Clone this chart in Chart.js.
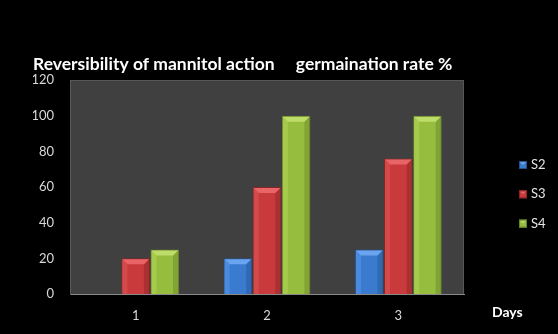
<!DOCTYPE html>
<html>
<head>
<meta charset="utf-8">
<script src="https://cdn.jsdelivr.net/npm/chart.js@4/dist/chart.umd.min.js"></script>
<style>
  html, body { margin: 0; padding: 0; background: #000; }
  #wrap { width: 558px; height: 334px; }
</style>
</head>
<body>
<div id="wrap"><canvas id="c" width="558" height="334"></canvas></div>
<script>
// Germination rate (%) per day for each treatment series
const days = ['1', '2', '3'];
const seriesNames = ['S2', 'S3', 'S4'];
const s2 = [0, 20, 25];
const s3 = [20, 60, 76];
const s4 = [25, 100, 100];

const fills   = ['#3a7bd0', '#c83a3b', '#97bd3f'];
const lights  = ['#6aa3ee', '#e86466', '#bedc68'];
const darks   = ['#25528f', '#8a2526', '#66842a'];
const sides   = ['#4a8be0', '#d44a4b', '#a6cb4c'];

const titleText = 'Reversibility of mannitol action     germaination rate %';

// Dark plot panel behind the bars
const panel = {
  id: 'panel',
  beforeDraw(chart) {
    const { ctx, chartArea: a } = chart;
    ctx.save();
    ctx.fillStyle = '#000';
    ctx.fillRect(0, 0, chart.width, chart.height);
    ctx.fillStyle = '#404040';
    ctx.fillRect(a.left, a.top, a.right - a.left, a.bottom - a.top);
    ctx.strokeStyle = '#575757';
    ctx.lineWidth = 1;
    ctx.strokeRect(a.left + 0.5, a.top + 0.5, a.right - a.left - 1, a.bottom - a.top);
    ctx.restore();
  }
};

// Bevelled top and side faces on each bar
function bevel(ctx, x0, x1, top, bottom, i) {
  const b = Math.min(5, (bottom - top) / 2);
  ctx.fillStyle = sides[i];
  ctx.beginPath();
  ctx.moveTo(x0 + 1, top + 1); ctx.lineTo(x0 + 1 + b, top + 1 + b);
  ctx.lineTo(x0 + 1 + b, bottom); ctx.lineTo(x0 + 1, bottom); ctx.closePath();
  ctx.fill();
  ctx.fillStyle = darks[i];
  ctx.globalAlpha = 0.45;
  ctx.beginPath();
  ctx.moveTo(x1 - 1, top + 1); ctx.lineTo(x1 - 1 - b, top + 1 + b);
  ctx.lineTo(x1 - 1 - b, bottom); ctx.lineTo(x1 - 1, bottom); ctx.closePath();
  ctx.fill();
  ctx.globalAlpha = 1;
  ctx.fillStyle = lights[i];
  ctx.beginPath();
  ctx.moveTo(x0 + 1, top + 1); ctx.lineTo(x1 - 1, top + 1);
  ctx.lineTo(x1 - 1 - b, top + 1 + b); ctx.lineTo(x0 + 1 + b, top + 1 + b); ctx.closePath();
  ctx.fill();
}

const bevels = {
  id: 'bevels',
  afterDatasetsDraw(chart) {
    const ctx = chart.ctx;
    ctx.save();
    chart.data.datasets.forEach((ds, i) => {
      chart.getDatasetMeta(i).data.forEach(bar => {
        const { x, y, base, width } = bar.getProps(['x', 'y', 'base', 'width'], true);
        if (base - y < 2) return;
        bevel(ctx, x - width / 2, x + width / 2, y, base, i);
      });
    });
    ctx.restore();
  }
};

// Legend on the right and the "Days" axis caption
const extras = {
  id: 'extras',
  afterDraw(chart) {
    const ctx = chart.ctx;
    ctx.save();
    chart.data.datasets.forEach((ds, i) => {
      const cy = 165 + i * 29.3;
      ctx.fillStyle = fills[i];
      ctx.fillRect(519, cy - 4, 8, 8);
      ctx.fillStyle = lights[i];
      ctx.beginPath();
      ctx.moveTo(520, cy - 3); ctx.lineTo(526, cy - 3); ctx.lineTo(523, cy); ctx.closePath();
      ctx.fill();
      ctx.strokeStyle = darks[i];
      ctx.lineWidth = 1;
      ctx.strokeRect(519.5, cy - 3.5, 7, 7);
      ctx.fillStyle = '#e4e4e4';
      ctx.font = '13px Lato';
      ctx.textBaseline = 'middle';
      ctx.textAlign = 'left';
      ctx.fillText(ds.label, 531, cy);
    });
    ctx.fillStyle = '#ffffff';
    ctx.font = 'bold 14px Lato';
    ctx.textBaseline = 'middle';
    ctx.fillText('Days', 492, 312);
    ctx.restore();
  }
};

new Chart(document.getElementById('c'), {
  type: 'bar',
  data: {
    labels: days,
    datasets: [
      { label: seriesNames[0], data: s2, backgroundColor: fills[0], borderColor: darks[0], borderWidth: 1 },
      { label: seriesNames[1], data: s3, backgroundColor: fills[1], borderColor: darks[1], borderWidth: 1 },
      { label: seriesNames[2], data: s4, backgroundColor: fills[2], borderColor: darks[2], borderWidth: 1 }
    ]
  },
  options: {
    responsive: false,
    animation: false,
    devicePixelRatio: 1,
    layout: { padding: { left: 33, right: 94, top: 0, bottom: 0 } },
    datasets: { bar: { categoryPercentage: 0.665, barPercentage: 0.98, borderSkipped: 'start' } },
    plugins: {
      legend: { display: false },
      tooltip: { enabled: false },
      title: {
        display: true,
        text: titleText,
        align: 'start',
        color: '#ffffff',
        font: { family: 'Lato', size: 17.5, weight: 'bold', lineHeight: 1.2 },
        padding: { top: 54, bottom: 5 }
      }
    },
    scales: {
      x: {
        grid: { display: false, drawTicks: false },
        border: { color: '#8a8a8a', width: 1 },
        ticks: { color: '#d9d9d9', font: { family: 'Lato', size: 13 }, padding: 14 },
        afterFit(s) { s.height = 40; }
      },
      y: {
        min: 0, max: 120,
        grid: { display: false, drawTicks: false },
        border: { color: '#5a5a5a', width: 1 },
        ticks: { stepSize: 20, color: '#d9d9d9', font: { family: 'Lato', size: 13 }, padding: 16 },
        afterFit(s) { s.width = 37; }
      }
    }
  },
  plugins: [panel, bevels, extras]
});
</script>
</body>
</html>
